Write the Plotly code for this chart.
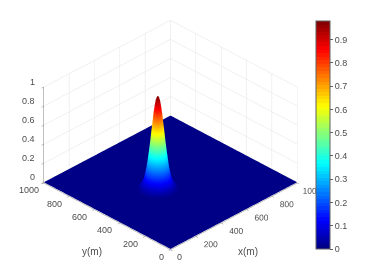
import plotly.graph_objects as go

x_m = [0, 272, 298, 315, 332, 349, 366, 375, 383, 392, 400, 408, 417, 425, 434, 451, 468, 485, 502, 528, 1000]
y_m = [0, 372, 398, 415, 432, 449, 466, 475, 483, 492, 500, 508, 517, 525, 534, 551, 568, 585, 602, 628, 1000]

# one quarter of the peak, centre value first,
# it looks round so the other three quarters are mirrored from this
peak_quarter = [
    [.98, .96, .89, .77, .65, .38, .18, .07, .025, .003],
    [.96, .94, .87, .75, .63, .37, .17, .07, .025, .003],
    [.89, .87, .80, .70, .58, .34, .16, .065, .022, .003],
    [.77, .75, .70, .62, .51, .30, .14, .06, .02, .002],
    [.65, .63, .58, .51, .42, .25, .12, .05, .018, .002],
    [.38, .37, .34, .30, .25, .14, .07, .03, .01, .001],
    [.18, .17, .16, .14, .12, .07, .04, .015, .005, 0],
    [.07, .07, .065, .06, .05, .03, .015, .006, .002, 0],
    [.025, .025, .022, .02, .018, .01, .005, .002, 0, 0],
    [.003, .003, .003, .002, .002, .001, 0, 0, 0, 0],
]
x_ticks = [0, 200, 400, 600, 800, 1000]
y_ticks = [0, 200, 400, 600, 800, 1000]
z_ticks = [0, 0.2, 0.4, 0.6, 0.8, 1]
cbar_ticks = [0, 0.1, 0.2, 0.3, 0.4, 0.5, 0.6, 0.7, 0.8, 0.9]
# x labels stay real axis labels, the 1000 has to go under the colorbar; the 0 is placed below
x_tick_text = [' ', '200', '400', '600', '800', '1000']

half_rows = [[0] + row[:0:-1] + row + [0] for row in peak_quarter]
blank_row = [0] * len(x_m)
z_rows = [blank_row] + half_rows[:0:-1] + half_rows + [blank_row]


def jet(t):
    def chan(c):
        return max(0.0, min(1.0, 1.5 - abs(4 * t - c)))
    return 'rgb({},{},{})'.format(int(chan(3) * 255), int(chan(2) * 255), int(chan(1) * 255))


# stepped 64 level jet, the bands show on the peak
n_levels = 64
jet_scale = []
for i in range(n_levels):
    col = jet((i + 0.5) / n_levels)
    jet_scale.append([i / n_levels, col])
    jet_scale.append([(i + 1) / n_levels, col])

grey = '#4d4d4d'
grid = '#e2e2e2'
tick_font = dict(family='Liberation Sans', size=9, color=grey)
title_font = dict(family='Liberation Sans', size=10, color=grey)

axis_common = dict(
    backgroundcolor='white', showbackground=True, gridcolor=grid, gridwidth=1,
    showline=True, linecolor='#808080', linewidth=1, ticks='outside', ticklen=3,
    tickcolor='#808080', zeroline=False, showspikes=False,
)

# tick labels sit further out than plotly puts them, so they are placed as annotations
notes = [dict(x=0, y=0, z=0, text='0', showarrow=False, font=tick_font, xshift=9, yshift=-8)]
for v in y_ticks:
    notes.append(dict(x=0, y=v, z=0, text=str(v), showarrow=False, font=tick_font,
                      xshift=-9 if v == 0 else -15, yshift=-8))
for v in z_ticks:
    notes.append(dict(x=0, y=1000, z=v, text=str(v), showarrow=False, font=tick_font,
                      xanchor='right', xshift=-7, yshift=5))
notes.append(dict(x=500, y=0, z=0, text='x(m)', showarrow=False, font=title_font, xshift=14, yshift=-36))
notes.append(dict(x=0, y=500, z=0, text='y(m)', showarrow=False, font=title_font, xshift=-15, yshift=-36))

fig = go.Figure()
fig.add_trace(go.Surface(
    x=x_m, y=y_m, z=z_rows, colorscale=jet_scale, cmin=0, cmax=0.98,
    lighting=dict(ambient=1, diffuse=0, specular=0, fresnel=0, roughness=1),
    hoverinfo='skip',
    colorbar=dict(
        lenmode='pixels', len=228, thicknessmode='pixels', thickness=14,
        x=308 / 374, xanchor='left', xpad=0, y=1 - 127 / 280, yanchor='middle', ypad=0,
        tickmode='array', tickvals=cbar_ticks, ticks='outside', ticklen=3,
        tickcolor='#606060', outlinecolor='#606060', outlinewidth=1, borderwidth=0,
        tickfont=tick_font,
    ),
))
fig.update_layout(
    width=374, height=280, margin=dict(l=0, r=0, t=0, b=0),
    paper_bgcolor='white', showlegend=False,
    font=dict(family='Liberation Sans', size=9, color=grey),
    scene=dict(
        domain=dict(x=[0, 0.87], y=[0, 1]),
        camera=dict(projection=dict(type='orthographic'),
                    eye=dict(x=-0.97, y=-0.97, z=0.741), center=dict(x=0, y=0, z=-0.109)),
        aspectmode='manual', aspectratio=dict(x=1.28, y=1.28, z=0.806),
        xaxis=dict(range=[0, 1000], tickmode='array', tickvals=x_ticks, ticktext=x_tick_text,
                   tickangle=0, tickfont=dict(family='Liberation Sans', size=10, color=grey),
                   title=dict(text=''), **axis_common),
        yaxis=dict(range=[0, 1000], tickmode='array', tickvals=y_ticks, showticklabels=False,
                   title=dict(text=''), **axis_common),
        zaxis=dict(range=[-0.008, 1], tickmode='array', tickvals=z_ticks, showticklabels=False,
                   title=dict(text=''), **axis_common),
        annotations=notes,
    ),
)
fig.write_html('out.html')
